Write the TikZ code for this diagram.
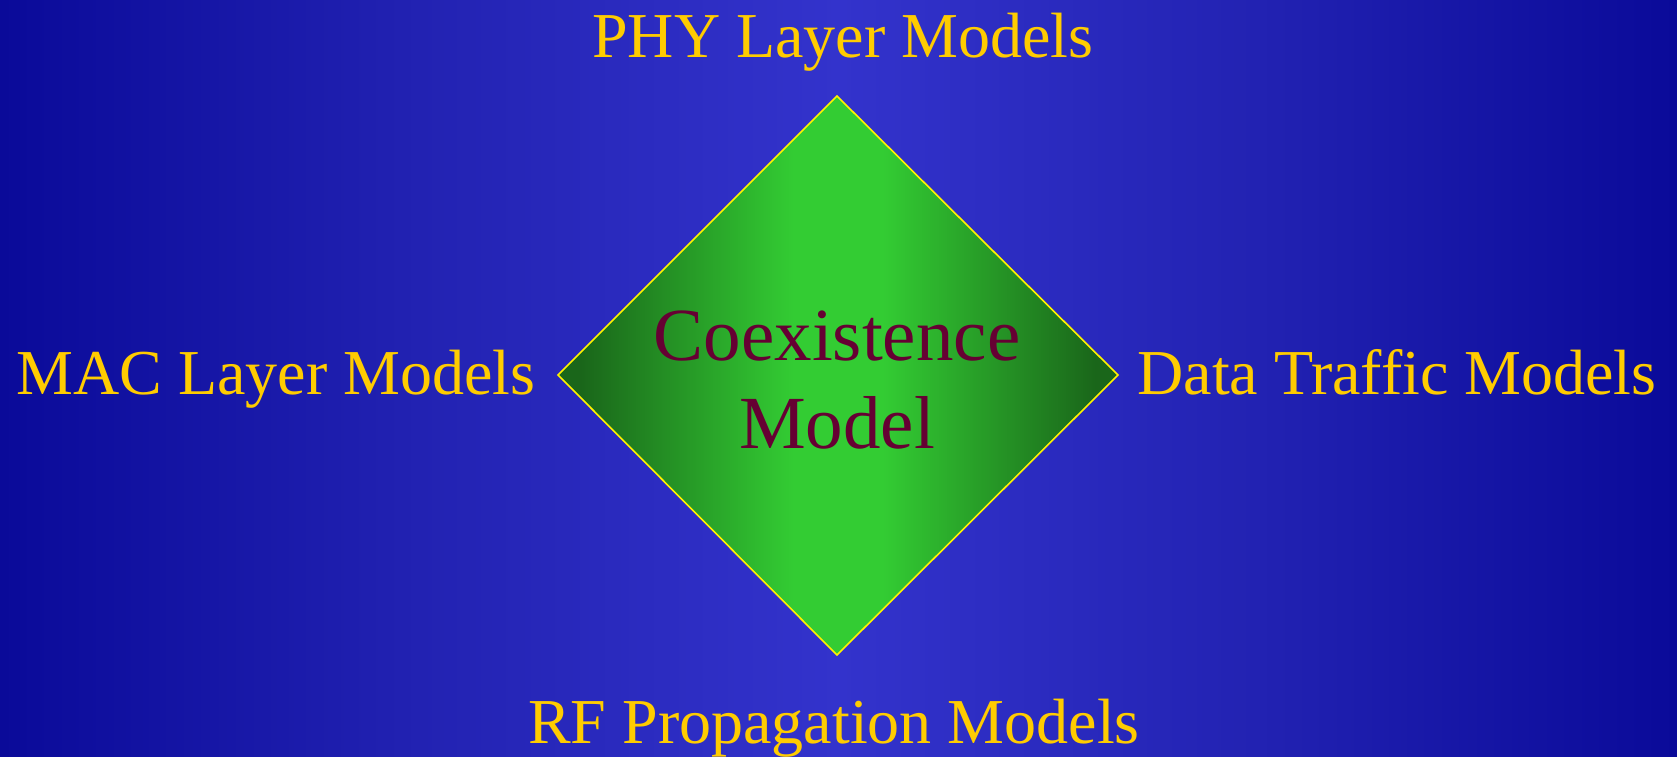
\documentclass[tikz,border=0pt]{standalone}
\usepackage{fontspec}
\setmainfont{Liberation Serif}
\definecolor{bgedge}{HTML}{0A0A99}
\definecolor{bgstep}{HTML}{2222B2}
\definecolor{bgmid}{HTML}{3333CC}
\definecolor{dmedge}{HTML}{1A661A}
\definecolor{dmmid}{HTML}{33CC33}
\definecolor{lbl}{HTML}{FFCC00}
\definecolor{core}{HTML}{660033}
% left-to-right colour ramps (the filled path spans 25bp..75bp)
\pgfdeclarehorizontalshading{backdrop}{100bp}{color(0bp)=(bgedge); color(25bp)=(bgedge);
  color(37.5bp)=(bgstep); color(50bp)=(bgmid); color(62.5bp)=(bgstep);
  color(75bp)=(bgedge); color(100bp)=(bgedge)}
\pgfdeclarehorizontalshading{gem}{100bp}{color(0bp)=(dmedge); color(27bp)=(dmedge);
  color(46bp)=(dmmid); color(54bp)=(dmmid); color(73bp)=(dmedge); color(100bp)=(dmedge)}
\begin{document}
\begin{tikzpicture}[x=1pt,y=-1pt,
  outer/.style={text=lbl,font=\fontsize{64}{72}\selectfont,anchor=base,inner sep=0pt},
  inner/.style={text=core,font=\fontsize{75}{88}\selectfont,anchor=base,inner sep=0pt}]
  % backdrop
  \useasboundingbox (0,0) rectangle (1677,756);
  \shade[shading=backdrop] (0,0) rectangle (1677,756);
  % central diamond
  \coordinate (dt) at (837,96);
  \coordinate (db) at (837,655);
  \coordinate (dl) at (558,375);
  \coordinate (dr) at (1118,375);
  \shade[shading=gem,draw=yellow,line width=1.6pt]
    (dt) -- (dr) -- (db) -- (dl) -- cycle;
  \node[inner] (c1) at (837,360) {Coexistence};
  \node[inner] (c2) at (837,448) {Model};
  % surrounding labels
  \node[outer] (phy) at (843,57) {PHY Layer Models};
  \node[outer] (mac) at (276,394) {MAC Layer Models};
  \node[outer] (dtm) at (1397,394) {Data Traffic Models};
  \node[outer] (rf) at (834,743) {RF Propagation Models};
\end{tikzpicture}
\end{document}
